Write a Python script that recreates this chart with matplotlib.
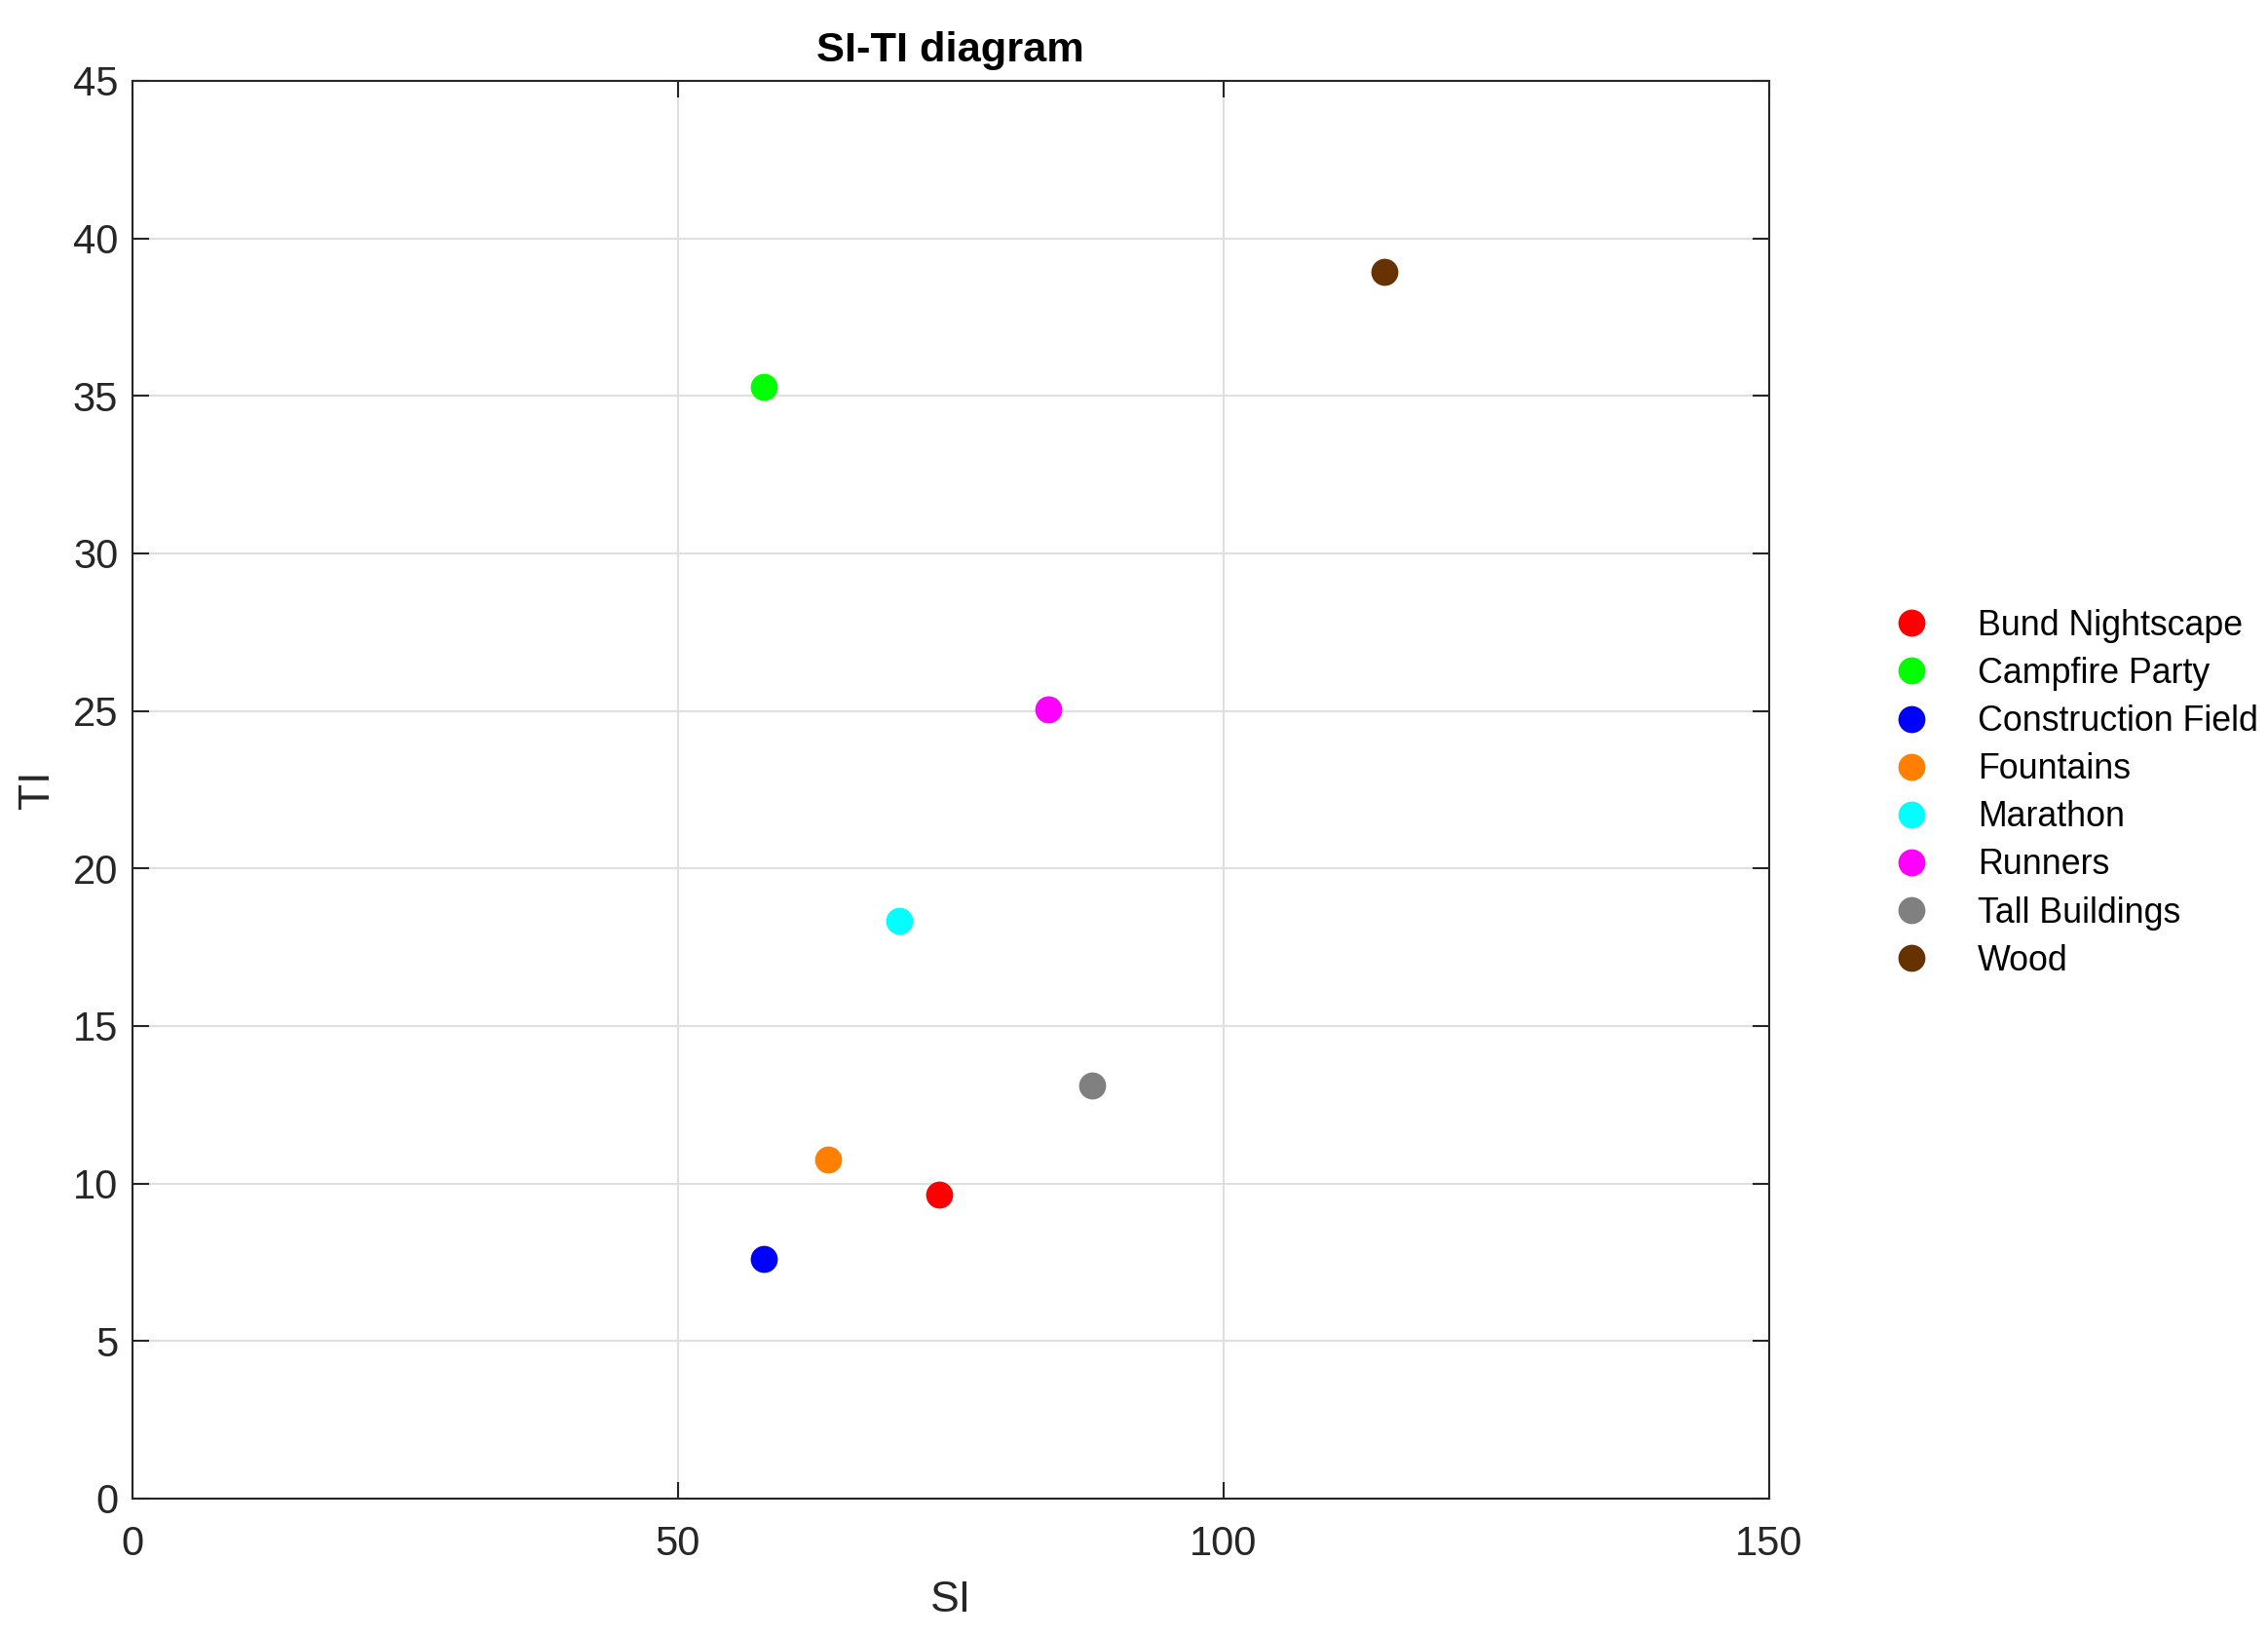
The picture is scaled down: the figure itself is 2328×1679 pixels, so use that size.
import matplotlib
matplotlib.use('Agg')
import matplotlib.pyplot as plt

# Data
names = ['Bund Nightscape', 'Campfire Party', 'Construction Field', 'Fountains',
         'Marathon', 'Runners', 'Tall Buildings', 'Wood']
si = [73.9, 57.9, 57.9, 63.8, 70.3, 83.9, 88.0, 114.7]
ti = [9.65, 35.3, 7.6, 10.75, 18.35, 25.05, 13.1, 38.95]
colors = ['#ff0000', '#00ff00', '#0000ff', '#ff8000',
          '#00ffff', '#ff00ff', '#808080', '#663300']

plt.rcParams['font.family'] = ['Liberation Sans', 'DejaVu Sans']

fig = plt.figure(figsize=(11.64, 8.395), dpi=200)
ax = fig.add_axes([0.0584, 0.0840, 0.7216, 0.8666])

for name, x, y, c in zip(names, si, ti, colors):
    ax.plot(x, y, 'o', color=c, markersize=10, markeredgewidth=0, label=name, zorder=3)

ax.set_xlim(0, 150)
ax.set_ylim(0, 45)
ax.set_xticks([0, 50, 100, 150])
ax.set_yticks(range(0, 46, 5))
ax.grid(True, color='#dfdfdf', linewidth=0.75)
ax.set_axisbelow(True)

ax.tick_params(direction='in', length=6, width=0.75, colors='#262626',
               labelsize=15, top=True, right=True)
ax.tick_params(axis='x', pad=9.6)
ax.tick_params(axis='y', pad=5.3)
for s in ax.spines.values():
    s.set_color('#262626')
    s.set_linewidth(0.75)

ax.set_title('SI-TI diagram', fontsize=15.6, fontweight='bold', pad=7)
ax.set_xlabel('SI', fontsize=16, color='#262626', labelpad=6.1)
ax.set_ylabel('TI', fontsize=16, color='#262626', labelpad=5.6)

fig.legend(loc='center left', bbox_to_anchor=(0.835, 0.515), frameon=False,
           fontsize=12.9, numpoints=1, handlelength=1.0, handletextpad=1.41,
           borderpad=0, borderaxespad=0, labelspacing=0.394)

fig.savefig('out.png', dpi=200)
